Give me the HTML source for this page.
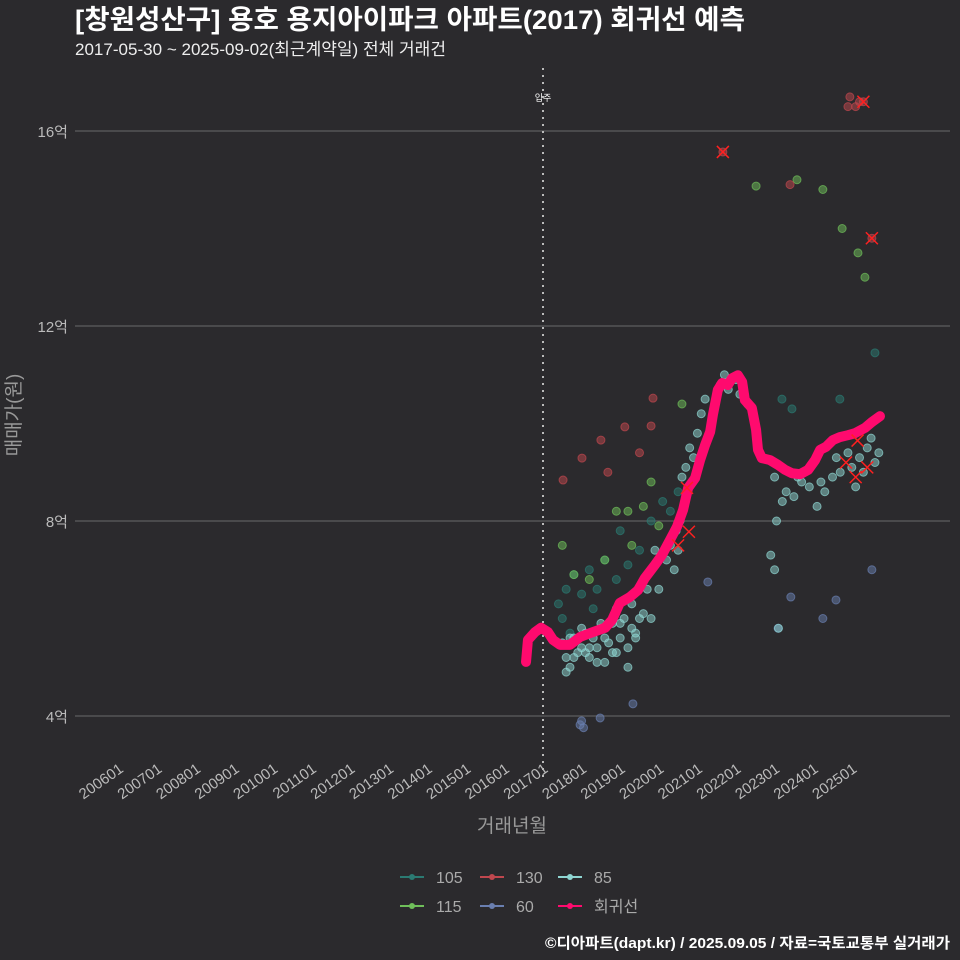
<!DOCTYPE html>
<html><head><meta charset="utf-8"><style>
body{margin:0;background:#2b2a2d;}
svg{display:block;font-family:"Liberation Sans","Noto Sans CJK KR",sans-serif;}
</style></head><body>
<svg width="960" height="960" viewBox="0 0 960 960" id="c">
<rect width="960" height="960" fill="#2b2a2d"/>
<text x="75" y="29" fill="#fff" font-size="27" font-weight="bold" textLength="670" lengthAdjust="spacingAndGlyphs">[창원성산구] 용호 용지아이파크 아파트(2017) 회귀선 예측</text>
<text x="75" y="55" fill="#eee" font-size="17" textLength="371" lengthAdjust="spacingAndGlyphs">2017-05-30 ~ 2025-09-02(최근계약일) 전체 거래건</text>
<g id="grid"></g><g id="pts"></g><g id="line"></g><g id="xs"></g><g id="axes"></g>
<text x="20" y="415" fill="#999" font-size="19" text-anchor="middle" transform="rotate(-90 20 415)">매매가(원)</text>
<text x="512" y="832" fill="#999" font-size="19" text-anchor="middle">거래년월</text>
<g id="legend"></g>
<text x="950" y="948" fill="#fff" font-size="15" font-weight="bold" text-anchor="end" textLength="405" lengthAdjust="spacingAndGlyphs">©디아파트(dapt.kr) / 2025.09.05 / 자료=국토교통부 실거래가</text>
</svg>
<script>
const yTicks=[4,8,12,16];
const yTickLabels=["4억","8억","12억","16억"];
const xYears=[2006,2007,2008,2009,2010,2011,2012,2013,2014,2015,2016,2017,2018,2019,2020,2021,2022,2023,2024,2025];
const moveIn=2017.0;
const regT=[2016.56,2016.61,2016.79,2016.95,2017.13,2017.26,2017.44,2017.70,2017.96,2018.22,2018.61,2018.79,2018.99,2019.25,2019.46,2019.64,2019.90,2020.08,2020.29,2020.47,2020.63,2020.76,2020.94,2021.07,2021.20,2021.33,2021.40,2021.53,2021.64,2021.79,2021.90,2022.05,2022.16,2022.23,2022.41,2022.52,2022.57,2022.67,2022.88,2023.09,2023.27,2023.45,2023.66,2023.87,2024.05,2024.18,2024.33,2024.51,2024.69,2024.90,2025.08,2025.34,2025.52,2025.73];
const regV=[5.11,5.56,5.72,5.81,5.72,5.56,5.46,5.46,5.62,5.70,5.81,5.97,6.32,6.44,6.58,6.83,7.10,7.30,7.61,7.88,8.23,8.68,8.88,9.25,9.56,9.83,10.17,10.69,10.83,10.79,10.93,10.99,10.85,10.48,10.32,9.87,9.46,9.29,9.25,9.15,9.05,8.98,8.96,9.05,9.25,9.46,9.52,9.66,9.72,9.76,9.80,9.91,10.03,10.15];
const s85T=[2017.5,2017.6,2017.7,2017.8,2017.9,2018.0,2018.1,2018.2,2018.3,2018.4,2018.5,2018.6,2018.7,2018.8,2018.9,2019.0,2019.1,2019.2,2019.3,2019.4,2019.5,2017.6,2017.8,2018.0,2018.2,2018.4,2018.6,2018.8,2019.0,2019.2,2019.4,2017.7,2018.1,2018.5,2018.9,2019.3,2019.6,2019.7,2019.8,2020.2,2020.3,2020.4,2020.45,2020.5,2020.55,2020.6,2020.7,2020.8,2020.9,2021.0,2021.1,2021.2,2021.6,2021.7,2021.8,2022.0,2022.1,2022.3,2023.0,2023.05,2023.2,2023.3,2023.5,2023.7,2023.9,2024.1,2024.3,2024.5,2024.7,2024.9,2025.0,2025.2,2025.4,2025.5,2025.6,2025.7,2023.6,2024.2,2024.6,2025.1,2025.3,2022.9,2023.0,2023.1,2020.0,2019.9];
const s85V=[5.5,5.2,5.0,5.6,5.3,5.4,5.7,5.2,5.6,5.4,5.8,5.1,5.5,5.9,5.3,5.6,6.0,5.4,5.8,5.7,6.0,4.9,5.2,5.8,5.4,5.1,5.6,5.3,5.9,5.0,5.6,5.6,5.3,5.9,6.2,6.3,6.1,6.6,6.0,7.2,7.5,7.0,7.8,7.4,8.0,8.9,9.1,9.5,9.3,9.8,10.2,10.5,10.8,11.0,10.7,10.9,10.6,10.4,8.9,8.0,8.4,8.6,8.5,8.8,8.7,8.3,8.6,8.9,9.0,9.4,9.1,9.3,9.5,9.7,9.2,9.4,8.9,8.8,9.3,8.7,9.0,7.3,7.0,5.8,6.6,7.4];
const s105T=[2017.4,2017.5,2017.6,2017.8,2018.0,2018.2,2018.4,2018.6,2018.9,2019.2,2019.5,2019.8,2020.1,2020.3,2020.5,2023.19,2023.45,2024.69,2025.6,2019.0,2018.3,2017.7];
const s105V=[6.3,6.0,6.6,6.9,6.5,7.0,6.6,7.2,6.8,7.1,7.4,8.0,8.4,8.2,8.6,10.5,10.3,10.5,11.45,7.8,6.2,5.7];
const s115T=[2017.5,2017.8,2018.2,2018.9,2019.3,2019.6,2019.8,2020.0,2020.6,2022.52,2023.58,2024.25,2024.75,2025.16,2025.34,2018.6,2019.2];
const s115V=[7.5,6.9,6.8,8.2,7.5,8.3,8.8,7.9,10.4,14.87,15.0,14.8,14.0,13.5,13.0,7.2,8.2];
const s130T=[2017.52,2018.01,2018.5,2018.68,2019.12,2019.5,2019.8,2019.85,2021.66,2023.4,2024.9,2024.95,2025.1,2025.2,2025.3,2025.52];
const s130V=[8.84,9.29,9.66,9.0,9.93,9.4,9.95,10.52,15.57,14.9,16.5,16.7,16.5,16.6,16.6,13.8];
const s60T=[2017.96,2018.05,2018.48,2019.33,2021.27,2023.42,2024.59,2024.25,2023.09,2025.52,2018.0];
const s60V=[3.82,3.76,3.96,4.25,6.75,6.44,6.38,6.0,5.8,7.0,3.9];
const xT=[2021.66,2025.3,2025.52,2020.73,2020.78,2020.5,2024.85,2025.1,2025.4,2025.15];
const xV=[15.57,16.6,13.8,8.68,7.78,7.5,9.2,8.9,9.1,9.65];
const NS="http://www.w3.org/2000/svg";
const X=t=>543+(t-2017)*38.6, Y=v=>716-(v-4)*48.75;
function mk(tag,attrs,parent){const e=document.createElementNS(NS,tag);for(const k in attrs)e.setAttribute(k,attrs[k]);document.getElementById(parent).appendChild(e);return e;}
yTicks.forEach((v,i)=>{
 const l=mk('line',{x1:75,x2:950,y1:Y(v),y2:Y(v),stroke:'#6a6a6a','stroke-width':1},'grid');
 
 
 const t=mk('text',{x:68,y:Y(v)+6,fill:'#bbb','font-size':15,'text-anchor':'end'},'axes');
 t.textContent=yTickLabels[i];
 
 
});
xYears.forEach(yr=>{
 const x=X(yr);
 const t=mk('text',{x:x+6,y:771,fill:'#bbb','font-size':15,'text-anchor':'end',transform:`rotate(-35 ${x+6} 771)`},'axes');
 t.textContent=yr+'01';
 
 
});
const vl=mk('line',{x1:X(moveIn),x2:X(moveIn),y1:68,y2:782,stroke:'#bbb','stroke-width':2,'stroke-dasharray':'2 5'},'grid');


const vt=mk('text',{x:X(moveIn),y:101,fill:'#fff','font-size':9,'text-anchor':'middle'},'grid');
vt.textContent='입주';


function series(T,V,col,name){T.forEach((t,i)=>{
 const c=mk('circle',{cx:X(t),cy:Y(V[i]),r:4,fill:col,'fill-opacity':0.5,stroke:col,'stroke-opacity':0.7},'pts');
 
 
});}
series(s105T,s105V,'#2b7a72','point-105');
series(s115T,s115V,'#6fbf5a','point-115');
series(s130T,s130V,'#c0474e','point-130');
series(s60T,s60V,'#6a7fb0','point-60');
series(s85T,s85V,'#8fd6d2','point-85');
const p=mk('polyline',{points:regT.map((t,i)=>X(t)+','+Y(regV[i])).join(' '),fill:'none',stroke:'#ff0a6e','stroke-width':10,'stroke-linejoin':'round','stroke-linecap':'round'},'line');


xT.forEach((t,i)=>{const x=X(t),y=Y(xV[i]);
 const g=mk('path',{d:`M${x-6} ${y-6}L${x+6} ${y+6}M${x+6} ${y-6}L${x-6} ${y+6}`,stroke:'#ff2020','stroke-width':1.5},'xs');
 
 
});
const leg=[['105','#2b7a72',400,877],['130','#c0474e',480,877],['85','#8fd6d2',558,877],['115','#6fbf5a',400,906],['60','#6a7fb0',480,906],['회귀선','#ff0a6e',558,906]];
leg.forEach(([lab,col,x,y])=>{
 const l=mk('line',{x1:x,x2:x+24,y1:y,y2:y,stroke:col,'stroke-width':2},'legend');
 
 
 const c=mk('circle',{cx:x+12,cy:y,r:3,fill:col},'legend');
 
 
 const t=mk('text',{x:x+36,y:y+6,fill:'#aaa','font-size':16},'legend');
 t.textContent=lab;
 
 
});
</script>
</body></html>
